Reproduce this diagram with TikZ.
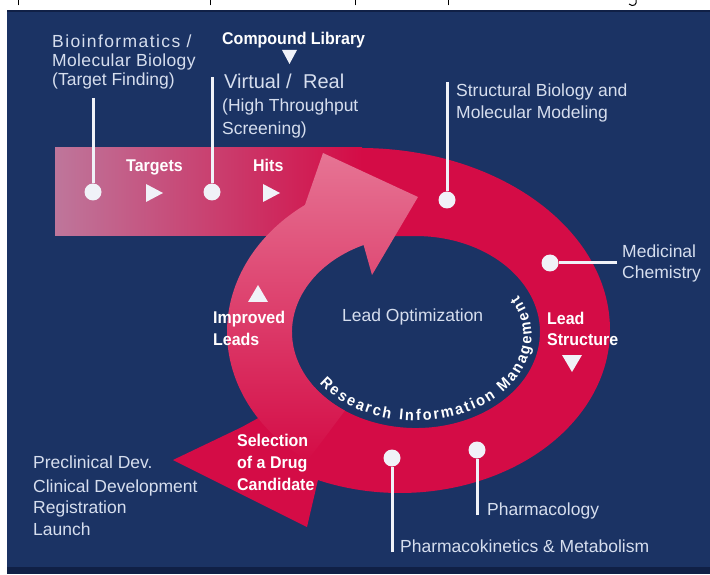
\documentclass[tikz,border=0pt]{standalone}
\usepackage{fontspec}
\setmainfont{Liberation Sans}
\newfontfamily\bcond{Liberation Sans}[FakeStretch=0.94]
\usetikzlibrary{decorations.text}
\definecolor{navy}{RGB}{27,51,100}
\definecolor{navydark}{RGB}{16,32,70}
\definecolor{crim}{RGB}{212,12,70}
\definecolor{mauve}{RGB}{190,118,155}
\definecolor{pinkhead}{RGB}{230,116,148}
\definecolor{pinkmid}{RGB}{194,98,134}
\definecolor{txtc}{RGB}{214,222,238}
\definecolor{linec}{RGB}{240,242,248}
\tikzset{
  rt/.style={text=txtc, inner sep=0pt, anchor=base west, font=\fontsize{17.5}{21}\selectfont},
  bt/.style={text=white, inner sep=0pt, anchor=base west, font=\bcond\bfseries\fontsize{17}{21}\selectfont},
  dot/.style={circle, fill=linec, inner sep=0pt, minimum size=17pt},
  wline/.style={draw=linec, line width=3pt},
  tri/.style={fill=linec},
}
\begin{document}
\begin{tikzpicture}[x=1pt,y=1pt]
\useasboundingbox (0,0) rectangle (710,574);
\fill[white] (0,0) rectangle (710,574);
\fill[navy] (7,0) rectangle (710,563);
\fill[navydark] (7,0) rectangle (710,7);
\draw[navydark, line width=1.2pt] (7,563) -- (710,563);
% fragments of text above the frame
\foreach \sx in {18,210,355,448} \draw[black, line width=1pt] (\sx,568.5) -- (\sx,574);
\draw[black, line width=1pt] (636,574) -- (636,571) to[out=-90,in=0] (632,568.5) to[out=180,in=-60] (629,570);

% red C-shaped arrow
\fill[crim] (360,426) arc[start angle=90, end angle=0, x radius=250, y radius=182]
  arc[start angle=0, end angle=-113, x radius=210, y radius=163]
  -- (307,47) -- (173,114) -- (242,147)
  -- (314.4,186.9) arc[start angle=215, end angle=450, x radius=124, y radius=96]
  -- (360,338) -- cycle;
% horizontal band
\shade[left color=mauve, right color=crim] (55,338) rectangle (362,426);
% pink curved arrow (improved leads)
\shade[top color=pinkhead, middle color=pinkmid, bottom color=crim]
  (307.6,113.4) arc[start angle=235, end angle=126, x radius=189, y radius=157]
  -- (323,421) -- (418,377) -- (372,299) -- (363.6,329.0)
  arc[start angle=115, end angle=235, x radius=124, y radius=96] -- cycle;

% circular text
\path[decorate, decoration={text along path, text color=white,
   text={|\bcond\bfseries\fontsize{15.5}{15.5}\selectfont|Research Information Management},
   text align=fit to path}]
  (319.5,190.8) arc[start angle=214, end angle=388, x radius=116, y radius=85];

% connectors and dots
\coordinate (p1) at (93,476);
\coordinate (p2) at (212,497);
\coordinate (p3) at (447,492);
\coordinate (p4) at (617,311);
\coordinate (p5) at (477,59);
\coordinate (p6) at (392,22);
\node[dot] (d1) at (93,382) {};
\node[dot] (d2) at (212,382) {};
\node[dot] (d3) at (447,374) {};
\node[dot] (d4) at (550,311) {};
\node[dot] (d5) at (477,124) {};
\node[dot] (d6) at (392,116) {};
\draw[wline] (p1) -- (d1);
\draw[wline] (p2) -- (d2);
\draw[wline] (p3) -- (d3);
\draw[wline] (p4) -- (d4);
\draw[wline] (p5) -- (d5);
\draw[wline] (p6) -- (d6);

% triangles
\fill[tri] (282,524) -- (297,524) -- (289.5,510) -- cycle;
\fill[tri] (146,390) -- (146,372) -- (163,381) -- cycle;
\fill[tri] (263,390) -- (263,372) -- (280,381) -- cycle;
\fill[tri] (248,272) -- (268,272) -- (258,289) -- cycle;
\fill[tri] (562,219) -- (582,219) -- (572,202) -- cycle;

% regular texts
\node[rt] (a1) at (52,526) {\addfontfeature{LetterSpace=8}Bioinformatics /};
\node[rt] (a2) at (52,507) {\addfontfeature{LetterSpace=2}Molecular Biology};
\node[rt] (a3) at (52,488) {(Target Finding)};
\node[rt, font=\fontsize{20}{24}\selectfont] (v1) at (224,485) {Virtual /\hspace{6pt} Real};
\node[rt] (v2) at (222,462.5) {(High Throughput};
\node[rt] (v3) at (222,439) {Screening)};
\node[rt] (s1) at (456,477.5) {Structural Biology and};
\node[rt] (s2) at (456,455) {Molecular Modeling};
\node[rt] (m1) at (622,316) {Medicinal};
\node[rt] (m2) at (622,295) {Chemistry};
\node[rt] (lo) at (342,252) {Lead Optimization};
\node[rt] (ph) at (487,59) {Pharmacology};
\node[rt] (pk) at (400,21.5) {Pharmacokinetics \& Metabolism};
\node[rt] (c1) at (33,106) {Preclinical Dev.};
\node[rt] (c2) at (33,82) {Clinical Development};
\node[rt] (c3) at (33,61) {Registration};
\node[rt] (c4) at (33,39) {Launch};

% bold texts
\node[bt] (cl) at (222,529) {Compound Library};
\node[bt] (tg) at (126,402.5) {Targets};
\node[bt] (hi) at (253,402.5) {Hits};
\node[bt] (im1) at (213,251) {Improved};
\node[bt] (im2) at (213,229) {Leads};
\node[bt] (ls1) at (547,250) {Lead};
\node[bt] (ls2) at (547,229) {Structure};
\node[bt] (sd1) at (237,127.5) {Selection};
\node[bt] (sd2) at (237,106) {of a Drug};
\node[bt] (sd3) at (237,84) {Candidate};
\end{tikzpicture}
\end{document}
